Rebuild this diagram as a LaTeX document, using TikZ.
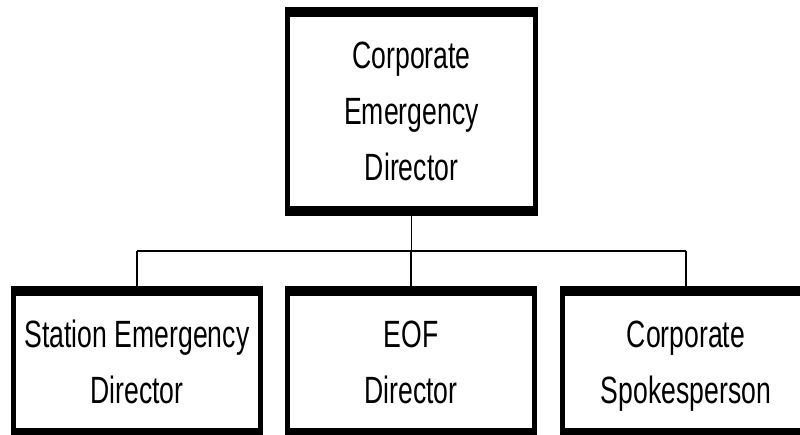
\documentclass[tikz,border=0pt]{standalone}
\usepackage{fontspec}
\setmainfont[FakeStretch=0.7]{Liberation Sans}

\tikzset{
	orgbox/.style = {draw, line width = 5pt, minimum width = 247pt, minimum height = 147pt,
		inner sep = 0pt, align = center, font = \fontsize{38}{56}\selectfont},
	link/.style = {line width = 1.5pt}
}

\begin{document}
\begin{tikzpicture}[x = 1pt, y = 1pt]
			\useasboundingbox (0, 0) rectangle (800, 434);
			% boxes
			\node[orgbox, minimum width = 248pt, minimum height = 204pt] (ced) at (411.5, 322.5) {Corporate\\Emergency\\Director};
			\node[orgbox] (sed) at (137, 72) {Station Emergency\\Director};
			\node[orgbox] (eof) at (411, 72) {EOF\\Director};
			\node[orgbox] (csp) at (686, 72) {Corporate\\\raisebox{0pt}[\height][0pt]{Spokesperson}};
			% connectors
			\coordinate (bus) at (0, 183);
			\draw[link] (ced.south) -- (ced.south |- bus);
			\draw[link] (sed.north |- bus) -- (csp.north |- bus);
			\foreach \n in {sed, eof, csp}
				\draw[link] (\n.north |- bus) -- (\n.north);
			% heavy top and bottom edges
			\foreach \n in {ced, sed, eof, csp} {
				\draw[line width = 10pt] ([yshift = -5pt]\n.north west) -- ([yshift = -5pt]\n.north east);
				\draw[line width = 10pt] ([yshift = 5pt]\n.south west) -- ([yshift = 5pt]\n.south east);
			}
		\end{tikzpicture}
\end{document}
